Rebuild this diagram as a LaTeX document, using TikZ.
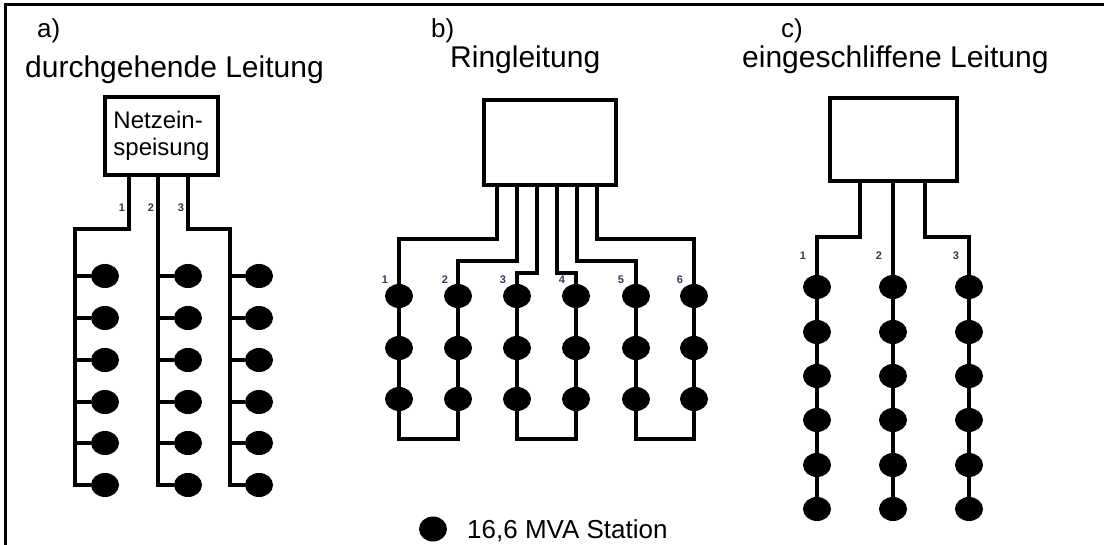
\documentclass[tikz,border=0pt]{standalone}
\usepackage{fontspec}
\setmainfont{Liberation Sans}
\usepackage{tikz}
\usetikzlibrary{shapes.geometric}
\definecolor{numc}{RGB}{55,55,90}
\tikzset{
	wire/.style={line width=3.4pt, line join=miter},
	feed/.style={draw, line width=3.4pt, inner sep=0pt, align=left,
		font=\fontsize{24}{27}\selectfont},
	stat/.style={ellipse, fill=black, inner sep=0pt, minimum width=28pt,
		minimum height=24pt},
	ttl/.style={anchor=base west, inner sep=0pt, font=\fontsize{30}{36}\selectfont},
	tag/.style={anchor=base west, inner sep=0pt, font=\fontsize{26}{30}\selectfont},
	num/.style={inner sep=0pt, text=numc, font=\fontsize{11}{13}\selectfont\bfseries},
}
\begin{document}
\begin{tikzpicture}[x=1pt, y=-1pt]
				\useasboundingbox (0,0) rectangle (1104,545);
				\draw[line width=3pt] (5,545) -- (5,5) -- (1104,5);
				\node[tag] (la) at (37,38) {a)};
				\node[ttl] (ha) at (25,78) {durchgehende Leitung};
				\node[tag] (lb) at (431,38) {b)};
				\node[ttl] (hb) at (450,68) {Ringleitung};
				\node[tag] (lc) at (781,38) {c)};
				\node[ttl] (hc) at (742,68) {eingeschliffene Leitung};
				% a) durchgehende Leitung
				\node[feed, minimum width=113pt, minimum height=78pt] at (161.5,136) (fa) {Netzein-\\speisung};
				\foreach \c/\x in {1/105,2/188,3/259}
					\foreach \r/\y in {1/276,2/318,3/360,4/402,5/443,6/485}
						\node[stat] at (\x,\y) (a\c\r) {};
				\coordinate (ta1) at (129,175);
				\coordinate (ta2) at (158,175);
				\coordinate (ta3) at (188,175);
				\coordinate (ka1) at (75,229);
				\coordinate (ka3) at (230,229);
				\draw[wire] (ta1) |- (ka1) |- (a16);
				\draw[wire] (ta2) |- (a26);
				\draw[wire] (ta3) |- (ka3) |- (a36);
				\foreach \r in {1,...,5} {
					\draw[wire] (a1\r -| ka1) -- (a1\r);
					\draw[wire] (a2\r -| ta2) -- (a2\r);
					\draw[wire] (a3\r -| ka3) -- (a3\r);
				}
				\node[num] at (122,208) (na1) {1};
				\node[num] at (151,208) (na2) {2};
				\node[num] at (181,208) (na3) {3};
				% b) Ringleitung
				\node[feed, minimum width=132pt, minimum height=85pt] at (550,142.5) (fb) {};
				\foreach \c/\x in {1/399,2/458,3/517,4/576,5/636,6/694}
					\foreach \r/\y in {1/296,2/348,3/399}
						\node[stat] at (\x,\y) (b\c\r) {};
				\foreach \c/\x/\t/\k/\n in {1/399/497/239/385, 2/458/517/261/445, 3/517/537/273/503,
						4/576/557/273/562, 5/636/577/261/621, 6/694/597/239/680} {
					\coordinate (tb\c) at (\t,185);
					\coordinate (kb\c) at (\x,\k);
					\draw[wire] (tb\c) |- (kb\c) -- (b\c1) -- (b\c2) -- (b\c3);
					\node[num] at (\n,280) (nb\c) {\c};
				}
				\foreach \p/\q/\x in {1/2/458,3/4/576,5/6/694} {
					\coordinate (rb\q) at (\x,439);
					\draw[wire] (b\p3) |- (rb\q) -- (b\q3);
				}
				% c) eingeschliffene Leitung
				\node[feed, minimum width=127pt, minimum height=83pt] at (893.5,139.5) (fc) {};
				\foreach \c/\x in {1/817,2/893,3/969}
					\foreach \r/\y in {1/287,2/332,3/376,4/420,5/465,6/509}
						\node[stat] at (\x,\y) (c\c\r) {};
				\coordinate (tc1) at (860,181);
				\coordinate (tc2) at (893,181);
				\coordinate (tc3) at (925,181);
				\coordinate (kc1) at (817,237);
				\coordinate (kc3) at (969,237);
				\draw[wire] (tc1) |- (kc1) -- (c11);
				\draw[wire] (tc2) -- (c21);
				\draw[wire] (tc3) |- (kc3) -- (c31);
				\foreach \c in {1,2,3}
					\foreach \r [count=\s from 2] in {1,...,5}
						\draw[wire] (c\c\r) -- (c\c\s);
				\node[num] at (803,256) (nc1) {1};
				\node[num] at (879,256) (nc2) {2};
				\node[num] at (956,256) (nc3) {3};
				% legend
				\node[stat, minimum width=28pt, minimum height=25pt] at (433,529) (key) {};
				\node[anchor=base west, inner sep=0pt, font=\fontsize{26}{30}\selectfont] at (467,538) (keytxt) {16,6 MVA Station};
			\end{tikzpicture}
\end{document}
